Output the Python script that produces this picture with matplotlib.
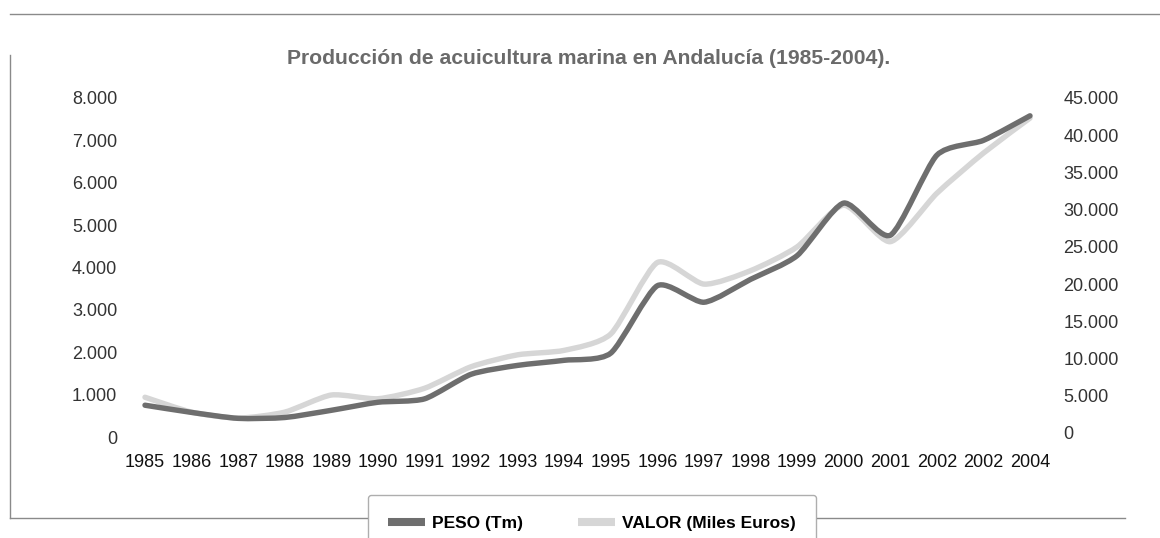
import matplotlib
matplotlib.use("Agg")
import matplotlib.pyplot as plt
from matplotlib.lines import Line2D
from matplotlib.path import Path
from matplotlib.patches import PathPatch
from matplotlib.ticker import FuncFormatter

# ---- data ----
years = ['1985', '1986', '1987', '1988', '1989', '1990', '1991', '1992', '1993', '1994',
         '1995', '1996', '1997', '1998', '1999', '2000', '2001', '2002', '2002', '2004']
peso = [750, 580, 440, 460, 630, 820, 900, 1480, 1690, 1810,
        1980, 3570, 3180, 3720, 4280, 5520, 4760, 6650, 7000, 7580]
valor = [4800, 2800, 2000, 2800, 5100, 4600, 6000, 8900, 10500, 11100,
         13300, 22900, 20000, 21800, 25000, 30600, 25700, 32200, 37600, 42300]
left_ticks = [0, 1000, 2000, 3000, 4000, 5000, 6000, 7000, 8000]
right_ticks = [0, 5000, 10000, 15000, 20000, 25000, 30000, 35000, 40000, 45000]

title = "Producción de acuicultura marina en Andalucía (1985-2004)."
label_peso = "PESO (Tm)"
label_valor = "VALOR (Miles Euros)"

DARK = "#6e6e6e"
LIGHT = "#d6d6d6"
W, H = 1160, 538

plt.rcParams['font.family'] = ['Liberation Sans', 'DejaVu Sans']


def smooth_path(xv, yv, k=9.0):
    """Lightly smoothed Bezier path through the data points."""
    pts = list(zip(xv, yv))
    n = len(pts)
    verts = [pts[0]]
    codes = [Path.MOVETO]
    for i in range(n - 1):
        p0 = pts[i - 1] if i > 0 else pts[i]
        p1 = pts[i]
        p2 = pts[i + 1]
        p3 = pts[i + 2] if i + 2 < n else pts[i + 1]
        c1 = (p1[0] + (p2[0] - p0[0]) / k, p1[1] + (p2[1] - p0[1]) / k)
        c2 = (p2[0] - (p3[0] - p1[0]) / k, p2[1] - (p3[1] - p1[1]) / k)
        verts += [c1, c2, p2]
        codes += [Path.CURVE4] * 3
    return Path(verts, codes)


fig = plt.figure(figsize=(W / 100, H / 100), dpi=100)
fig.patch.set_facecolor("white")

x0, x1 = 145, 1030
ybot, ytop = 437, 98
ax = fig.add_axes([x0 / W, (H - ybot) / H, (x1 - x0) / W, (ybot - ytop) / H])
ax2 = ax.twinx()

xs = list(range(len(years)))

ax2.add_patch(PathPatch(smooth_path(xs, valor), fill=False, edgecolor=LIGHT, lw=3.9,
                        joinstyle='round', capstyle='round', clip_on=False, zorder=2))
ax.add_patch(PathPatch(smooth_path(xs, peso), fill=False, edgecolor=DARK, lw=3.9,
                       joinstyle='round', capstyle='round', clip_on=False, zorder=3))

# draw the dark line over the light one
ax.set_zorder(ax2.get_zorder() + 1)
ax.patch.set_visible(False)

ax.set_xlim(0, len(years) - 1)
ax.set_ylim(0, 8000)
ax2.set_ylim(-540, 45000)
ax.set_yticks(left_ticks)
ax2.set_yticks(right_ticks)

fmt = FuncFormatter(lambda v, p: f"{int(v):,}".replace(",", "."))
ax.yaxis.set_major_formatter(fmt)
ax2.yaxis.set_major_formatter(fmt)

ax.set_xticks(xs)
ax.set_xticklabels(years, fontsize=13, color="#111111")

for a in (ax, ax2):
    for s in a.spines.values():
        s.set_visible(False)
    a.tick_params(length=0)

ax.tick_params(axis='x', pad=12)
ax.tick_params(axis='y', pad=20, labelsize=13, labelcolor="#333333")
ax2.tick_params(axis='y', pad=24, labelsize=13, labelcolor="#333333")

fig.text(589 / W, (H - 58) / H, title, ha='center', va='center',
         fontsize=15.2, fontweight='bold', color="#6a6a6a")

# frame lines
fig.add_artist(Line2D([10 / W, 1160 / W], [(H - 14) / H] * 2, color="#8a8a8a", lw=1))
fig.add_artist(Line2D([10 / W, 10 / W], [(H - 55) / H, (H - 518) / H], color="#8a8a8a", lw=1))
fig.add_artist(Line2D([10 / W, 367 / W], [(H - 518) / H] * 2, color="#8a8a8a", lw=1))
fig.add_artist(Line2D([817 / W, 1125 / W], [(H - 518) / H] * 2, color="#8a8a8a", lw=1))

handles = [Line2D([], [], color=DARK, lw=5.8, solid_capstyle='butt'),
           Line2D([], [], color=LIGHT, lw=5.8, solid_capstyle='butt')]
leg = fig.legend(handles, [label_peso, label_valor], loc='upper center',
                 bbox_to_anchor=(592 / W, (H - 495) / H), ncol=2, frameon=True,
                 fancybox=True, edgecolor="#9a9a9a", handlelength=2.1,
                 handletextpad=0.4, columnspacing=3.2, borderpad=1.2, borderaxespad=0,
                 prop={'weight': 'bold', 'size': 12.5})
leg.get_frame().set_linewidth(1.0)

fig.savefig("out.png", dpi=100, facecolor="white")
